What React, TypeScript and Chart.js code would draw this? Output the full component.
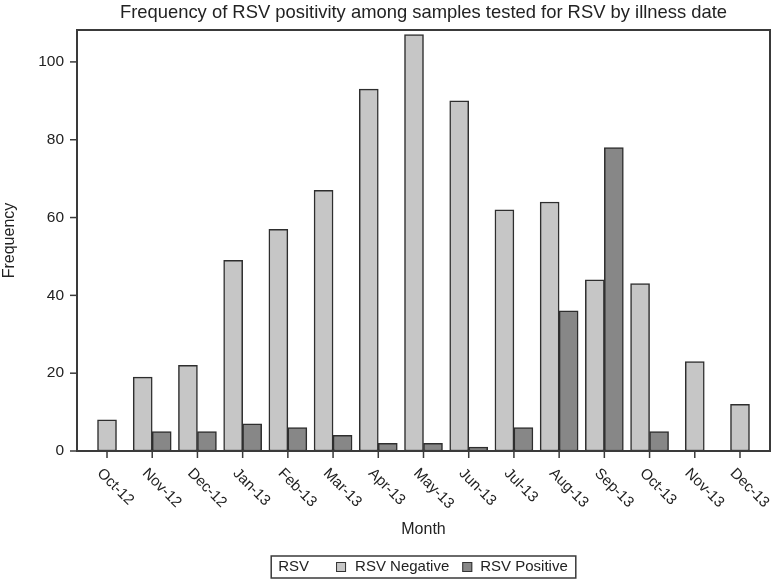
import React, { useEffect, useRef } from "react";
import { Chart, registerables } from "chart.js";

Chart.register(...registerables);

const months = ["Oct-12", "Nov-12", "Dec-12", "Jan-13", "Feb-13", "Mar-13", "Apr-13", "May-13", "Jun-13", "Jul-13", "Aug-13", "Sep-13", "Oct-13", "Nov-13", "Dec-13"];
const rsvNegative = [8, 19, 22, 49, 57, 67, 93, 107, 90, 62, 64, 44, 43, 23, 12];
const rsvPositive = [null, 5, 5, 7, 6, 4, 2, 2, 1, 6, 36, 78, 5, null, null];
const yTickValues = [0, 20, 40, 60, 80, 100];
const seriesLabels = ["RSV Negative", "RSV Positive"];
const chartTitle = "Frequency of RSV positivity among samples tested for RSV by illness date";
const xTitle = "Month";
const yTitle = "Frequency";
const legendTitle = "RSV";

const FONT = "'Liberation Sans', Arial, Helvetica, sans-serif";
const TEXT = "#222222";
const LINE = "#3a3a3a";

const sasPlugin = {
  id: "sasPlugin",
  afterDraw(chart: any) {
    const { ctx, chartArea, scales } = chart;
    const xs = scales.x;
    const ys = scales.y;
    const pad = 7.4;
    const fL = chartArea.left - pad;
    const fR = chartArea.right + pad;
    const fT = chartArea.top;
    const fB = chartArea.bottom;
    ctx.save();
    // frame
    ctx.strokeStyle = LINE;
    ctx.lineWidth = 2;
    ctx.strokeRect(fL, fT, fR - fL, fB - fT);
    // y ticks
    ctx.lineWidth = 1.5;
    ctx.font = `15.5px ${FONT}`;
    ctx.fillStyle = TEXT;
    ctx.textAlign = "right";
    ctx.textBaseline = "middle";
    ys.ticks.forEach((t: any) => {
      const py = ys.getPixelForValue(t.value);
      ctx.beginPath();
      ctx.moveTo(fL - 7, py);
      ctx.lineTo(fL, py);
      ctx.stroke();
      ctx.fillText(String(t.value), fL - 13, py);
    });
    // x ticks
    ctx.font = `15px ${FONT}`;
    xs.ticks.forEach((t: any, i: number) => {
      const px = xs.getPixelForTick(i);
      ctx.beginPath();
      ctx.moveTo(px, fB);
      ctx.lineTo(px, fB + 7);
      ctx.stroke();
      ctx.save();
      ctx.translate(px - 7.5, fB + 20);
      ctx.rotate(Math.PI / 4);
      ctx.textAlign = "left";
      ctx.textBaseline = "middle";
      ctx.fillText(xs.getLabelForValue(t.value), 0, 0);
      ctx.restore();
    });
    // title
    const cx = (fL + fR) / 2;
    ctx.textAlign = "center";
    ctx.textBaseline = "alphabetic";
    ctx.font = `18.4px ${FONT}`;
    ctx.fillText(chartTitle, cx, 17.5);
    // axis titles
    ctx.font = `16px ${FONT}`;
    ctx.textBaseline = "middle";
    ctx.fillText(xTitle, cx, 530);
    ctx.save();
    ctx.translate(10, (fT + fB) / 2);
    ctx.rotate(-Math.PI / 2);
    ctx.fillText(yTitle, 0, 0);
    ctx.restore();
    // legend
    ctx.font = `15px ${FONT}`;
    const ds = chart.data.datasets;
    const wT = ctx.measureText(legendTitle).width;
    const wA = ctx.measureText(ds[0].label).width;
    const wB = ctx.measureText(ds[1].label).width;
    const total = 7 + wT + 27 + 10 + 9 + wA + 13 + 10 + 8 + wB + 8;
    const lx = cx - total / 2;
    const ly = 556;
    const lh = 22;
    const my = ly + lh / 2;
    ctx.lineWidth = 1.5;
    ctx.strokeStyle = LINE;
    ctx.strokeRect(lx, ly, total, lh);
    ctx.textAlign = "left";
    let x = lx + 7;
    ctx.fillText(legendTitle, x, my);
    x += wT + 27;
    const items = [
      { w: wA, d: ds[0], gap: 9, after: 13 },
      { w: wB, d: ds[1], gap: 8, after: 0 },
    ];
    items.forEach((it) => {
      ctx.fillStyle = it.d.backgroundColor;
      ctx.fillRect(x, my - 5, 10, 10);
      ctx.lineWidth = 1;
      ctx.strokeStyle = "#333";
      ctx.strokeRect(x + 0.5, my - 4.5, 9, 9);
      x += 10 + it.gap;
      ctx.fillStyle = TEXT;
      ctx.fillText(it.d.label, x, my);
      x += it.w + it.after;
    });
    ctx.restore();
  },
};

export default function App() {
  const ref = useRef<HTMLCanvasElement | null>(null);
  useEffect(() => {
    if (!ref.current) return;
    const chart = new Chart(ref.current, {
      type: "bar",
      data: {
        labels: months,
        datasets: [
          {
            label: seriesLabels[0],
            data: rsvNegative,
            backgroundColor: "#c6c6c6",
            borderColor: "#2e2e2e",
            borderWidth: 1.5,
            borderSkipped: false,
            barThickness: 19,
            skipNull: true,
          } as any,
          {
            label: seriesLabels[1],
            data: rsvPositive,
            backgroundColor: "#878787",
            borderColor: "#2e2e2e",
            borderWidth: 1.5,
            borderSkipped: false,
            barThickness: 19,
            skipNull: true,
          } as any,
        ],
      },
      options: {
        responsive: false,
        animation: false,
        layout: { padding: { top: 30, right: 10.4, left: 0, bottom: 0 } },
        plugins: {
          legend: { display: false },
          title: { display: false },
          tooltip: { enabled: false },
        },
        scales: {
          x: {
            offset: true,
            grid: { display: false, drawTicks: false },
            border: { display: false },
            ticks: { display: false },
            afterFit: (s: any) => {
              s.height = 131;
            },
          },
          y: {
            min: 0,
            max: 108.2,
            grid: { display: false, drawTicks: false },
            border: { display: false },
            ticks: { display: false },
            afterBuildTicks: (s: any) => {
              s.ticks = yTickValues.map((v) => ({ value: v }));
            },
            afterFit: (s: any) => {
              s.width = 84.4;
            },
          },
        },
      },
      plugins: [sasPlugin],
    });
    return () => chart.destroy();
  }, []);
  return (
    <div style={{ position: "absolute", left: 0, top: 0, width: 773, height: 582, background: "#fff" }}>
      <canvas ref={ref} width={773} height={582} />
    </div>
  );
}
